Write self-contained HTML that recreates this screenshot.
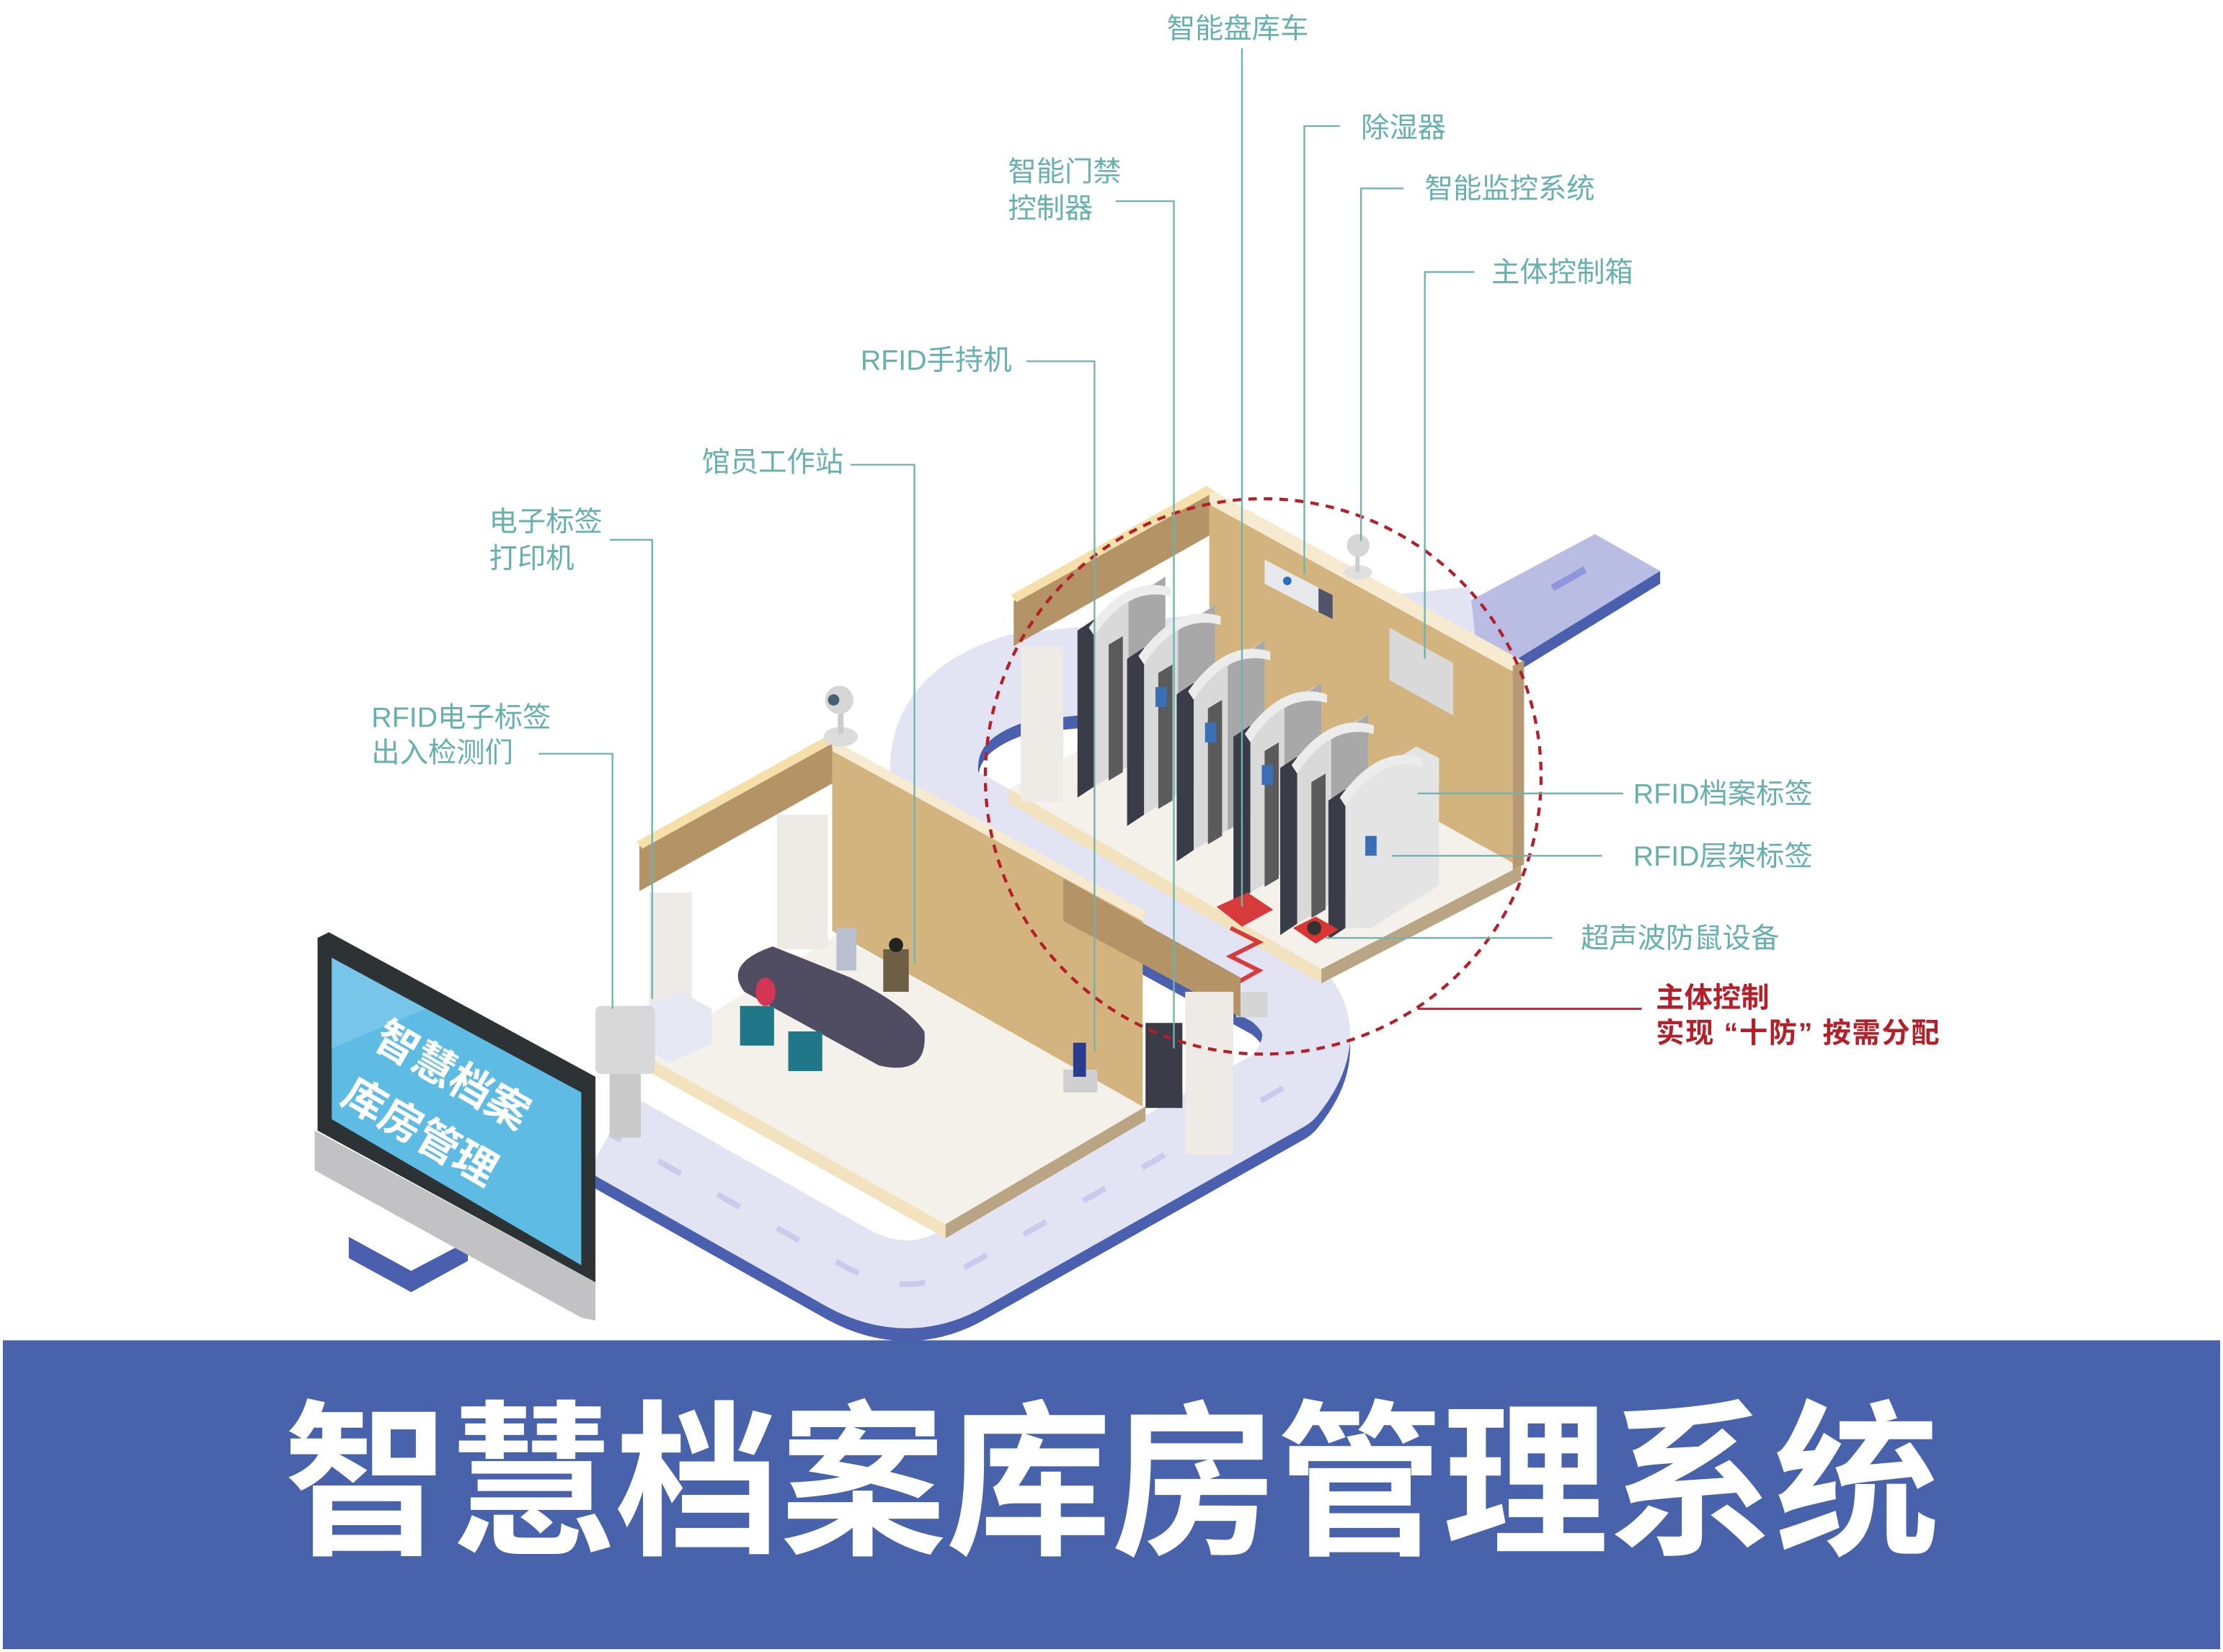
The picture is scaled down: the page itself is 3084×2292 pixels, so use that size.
<!DOCTYPE html>
<html><head><meta charset="utf-8"><style>
html,body{margin:0;padding:0;background:#fff;}
svg{display:block;}
.lb{font-family:"Liberation Sans","Noto Sans CJK SC",sans-serif;fill:#66b0ae;font-size:20px;}
.ln{stroke:#6fb3b1;stroke-width:1.2;fill:none;}
.rd{font-family:"Liberation Sans","Noto Sans CJK SC",sans-serif;fill:#b51f29;font-size:20px;font-weight:bold;}
</style></head><body>
<svg width="3084" height="2292" viewBox="0 0 1568 1166" preserveAspectRatio="none" xmlns="http://www.w3.org/2000/svg">
<rect width="1568" height="1166" fill="#fff"/>
<polygon points="1125,377 1171,403 1067,467 1020,433" fill="#b9bde3"/>
<polygon points="1171,403 1171,412 1067,476 1067,467" fill="#4a5fae"/>
<line x1="1095" y1="415" x2="1118" y2="402" stroke="#8f96db" stroke-width="5"/>
<path d="M1040,445 L720,478 Q645,500 662,565 L900,695 Q940,725 905,768 L680,895 Q640,918 598,895 L430,800" fill="none" stroke="#4a5fae" stroke-width="62" transform="translate(0,9)" stroke-linejoin="round"/>
<path d="M1040,445 L720,478 Q645,500 662,565 L900,695 Q940,725 905,768 L680,895 Q640,918 598,895 L430,800" fill="none" stroke="#e2e3f3" stroke-width="62" stroke-linejoin="round"/>
<path d="M905,768 L680,895 Q640,918 598,895 L430,800" fill="none" stroke="#c9cbea" stroke-width="4" stroke-dasharray="18 30"/>

<polygon points="712,557 853,478 1073,611 932,684" fill="#f4f1ea"/>
<polygon points="712,557 932,684 932,694 712,567" fill="#f2e2bd"/>
<polygon points="932,684 1073,611 1073,621 932,694" fill="#b9a584"/>
<polygon points="853,352 1067,470 1067,609 853,490" fill="#d3b47f"/>
<polygon points="853,345 1075,467 1067,474 853,356" fill="#f6ead0"/>
<polygon points="1067,470 1075,466 1075,610 1067,614" fill="#b59a71"/>
<polygon points="715,424 853,346 853,378 715,456" fill="#b49367"/>
<polygon points="713,420 851,343 857,347 717,425" fill="#f6dfa8"/>
<rect x="720" y="456" width="30" height="110" fill="#eeebe6"/>
<polygon points="892,395 940,420 940,437 892,412" fill="#e8e9ec"/>
<polygon points="930,415 940,420 940,437 930,432" fill="#4f5468"/>
<circle cx="908" cy="410" r="3" fill="#2c6fb6"/>
<ellipse cx="958" cy="404" rx="10" ry="5" fill="#e0e0e0"/>
<rect x="956" y="388" width="3" height="16" fill="#ccc"/>
<circle cx="958" cy="385" r="8" fill="#d6d6d6"/>
<polygon points="980,443 1025,468 1025,505 980,480" fill="#d9d9d9"/>
<g>
<g transform="translate(760,425)"><polygon points="0,20 12,12 12,130 0,138" fill="#3a3d48"/><polygon points="12,12 62,-18 62,100 12,130" fill="#d9d9d9"/><polygon points="36,0 62,-18 62,100 36,116" fill="#a8a8a8"/><path d="M8,18 Q35,-20 66,-10 L66,-4 Q35,-12 12,24Z" fill="#ececec"/><polygon points="22,30 32,24 32,120 22,126" fill="#5b5b5b"/></g>
<g transform="translate(795,445)"><polygon points="0,20 12,12 12,130 0,138" fill="#3a3d48"/><polygon points="12,12 62,-18 62,100 12,130" fill="#d9d9d9"/><polygon points="36,0 62,-18 62,100 36,116" fill="#a8a8a8"/><path d="M8,18 Q35,-20 66,-10 L66,-4 Q35,-12 12,24Z" fill="#ececec"/><polygon points="22,30 32,24 32,120 22,126" fill="#5b5b5b"/><rect x="20" y="40" width="8" height="14" fill="#3b6fb5"/></g>
<g transform="translate(830,470)"><polygon points="0,20 12,12 12,130 0,138" fill="#3a3d48"/><polygon points="12,12 62,-18 62,100 12,130" fill="#d9d9d9"/><polygon points="36,0 62,-18 62,100 36,116" fill="#a8a8a8"/><path d="M8,18 Q35,-20 66,-10 L66,-4 Q35,-12 12,24Z" fill="#ececec"/><polygon points="22,30 32,24 32,120 22,126" fill="#5b5b5b"/><rect x="20" y="40" width="8" height="14" fill="#3b6fb5"/></g>
<g transform="translate(870,500)"><polygon points="0,20 12,12 12,130 0,138" fill="#3a3d48"/><polygon points="12,12 62,-18 62,100 12,130" fill="#d9d9d9"/><polygon points="36,0 62,-18 62,100 36,116" fill="#a8a8a8"/><path d="M8,18 Q35,-20 66,-10 L66,-4 Q35,-12 12,24Z" fill="#ececec"/><polygon points="22,30 32,24 32,120 22,126" fill="#5b5b5b"/><rect x="20" y="40" width="8" height="14" fill="#3b6fb5"/></g>
<g transform="translate(903,522)"><polygon points="0,20 12,12 12,130 0,138" fill="#3a3d48"/><polygon points="12,12 62,-18 62,100 12,130" fill="#d9d9d9"/><polygon points="36,0 62,-18 62,100 36,116" fill="#a8a8a8"/><path d="M8,18 Q35,-20 66,-10 L66,-4 Q35,-12 12,24Z" fill="#ececec"/><polygon points="22,30 32,24 32,120 22,126" fill="#5b5b5b"/></g>
<g transform="translate(937,545)"><polygon points="0,20 12,12 12,110 0,118" fill="#3a3d48"/><polygon points="12,12 62,-18 78,-10 78,80 30,110 12,110" fill="#e4e4e4"/><path d="M8,18 Q35,-20 66,-10 L66,-4 Q35,-12 12,24Z" fill="#ececec"/><rect x="26" y="45" width="8" height="14" fill="#3b6fb5"/></g>
</g>
<polygon points="858,640 880,630 898,642 876,654" fill="#d63a3a"/>
<path d="M868,655 L888,665 L868,675 L888,685 L870,695" stroke="#d63a3a" stroke-width="3" fill="none"/>
<rect x="872" y="700" width="22" height="18" fill="#d5d5d5"/>
<polygon points="912,655 928,647 944,656 928,666" fill="#d93535"/>
<circle cx="927" cy="655" r="5" fill="#333"/>

<polygon points="455,745 590,660 808,781 667,864" fill="#f4f1ea"/>
<polygon points="455,745 667,864 667,874 455,755" fill="#f2e2bd"/>
<polygon points="667,864 808,781 808,791 667,874" fill="#b9a584"/>
<polygon points="587,527 806,645 806,781 587,657" fill="#d3b47f"/>
<polygon points="587,522 808,643 806,650 587,530" fill="#f6ead0"/>
<polygon points="451,597 587,522 587,553 451,629" fill="#b49367"/>
<polygon points="449,594 586,518 592,522 453,599" fill="#f6dfa8"/>
<rect x="458" y="630" width="30" height="100" fill="#eeebe6"/>
<rect x="548" y="575" width="36" height="95" fill="#eeebe6"/>
<polygon points="750,620 875,690 875,718 750,650" fill="#b49367"/>
<rect x="836" y="700" width="34" height="115" fill="#eeebe6"/>
<rect x="808" y="722" width="26" height="60" fill="#3a3d48"/>
<path d="M545,668 Q510,680 525,700 L620,752 Q655,760 652,728 Q640,710 600,690 Z" fill="#504d62"/>
<rect x="590" y="655" width="14" height="30" fill="#b9bfd0"/>
<rect x="623" y="670" width="18" height="30" fill="#6d5f45"/>
<circle cx="632" cy="667" r="5" fill="#222"/>
<rect x="522" y="710" width="24" height="28" fill="#1f7788"/>
<rect x="556" y="728" width="24" height="28" fill="#1f7788"/>
<ellipse cx="540" cy="700" rx="7" ry="10" fill="#d23555"/>
<polygon points="450,712 480,700 502,712 502,737 472,750 450,737" fill="#e6e8f3"/>
<rect x="420" y="710" width="42" height="48" rx="4" fill="#d8d8d8"/>
<rect x="430" y="758" width="22" height="45" fill="#c9c9c9"/>
<ellipse cx="593" cy="520" rx="12" ry="7" fill="#dcdcdc"/>
<rect x="591" y="500" width="4" height="18" fill="#ccc"/>
<circle cx="592" cy="494" r="10" fill="#d6d6d6"/>
<circle cx="588" cy="494" r="4" fill="#476076"/>
<rect x="750" y="755" width="24" height="16" fill="#cfcfcf"/>
<rect x="757" y="736" width="9" height="24" fill="#2a3c8e"/>

<polygon points="246,873 290,897 330,876 330,890 290,912 246,888" fill="#4a5fae"/>
<polygon points="222,798 420,905 420,932 410,930 222,826" fill="#c2c2c4"/>
<polygon points="224,662 232,658 420,760 420,905 224,798" fill="#2d3234"/>
<polygon points="234,676 410,771 410,893 234,790" fill="#5ebbe4"/>
<polygon points="234,676 300,712 234,740" fill="#8fd0ec" opacity="0.5"/>
<g transform="translate(262,738) rotate(30)" font-family="'Liberation Sans','Noto Sans CJK SC',sans-serif" font-weight="bold" fill="#fff" font-size="30">
<text x="0" y="0">智慧档案</text>
<text x="0" y="46">库房管理</text>
</g>

<circle cx="891" cy="548" r="196" fill="none" stroke="#b51f29" stroke-width="2.2" stroke-dasharray="6 5"/>

<polyline class="ln" points="876,34 876,640"/>
<polyline class="ln" points="945,89 920,89 920,405"/>
<polyline class="ln" points="787,142 828,142 828,740"/>
<polyline class="ln" points="990,133 960,133 960,382"/>
<polyline class="ln" points="1040,192 1005,192 1005,465"/>
<polyline class="ln" points="724,255 772,255 772,742"/>
<polyline class="ln" points="600,328 645,328 645,680"/>
<polyline class="ln" points="430,381 460,381 460,705"/>
<polyline class="ln" points="380,532 432,532 432,712"/>
<polyline class="ln" points="1145,560 1000,560"/>
<polyline class="ln" points="1130,604 982,604"/>
<polyline class="ln" points="1095,662 935,662"/>
<line x1="1158" y1="712" x2="1000" y2="712" stroke="#b51f29" stroke-width="1.4"/>

<text class="lb" x="823" y="27">智能盘库车</text>
<text class="lb" x="960" y="97">除湿器</text>
<text class="lb" x="711" y="128">智能门禁</text>
<text class="lb" x="711" y="154">控制器</text>
<text class="lb" x="1005" y="140">智能监控系统</text>
<text class="lb" x="1052" y="199">主体控制箱</text>
<text class="lb" x="607" y="261">RFID手持机</text>
<text class="lb" x="495" y="333">馆员工作站</text>
<text class="lb" x="345" y="375">电子标签</text>
<text class="lb" x="345" y="401">打印机</text>
<text class="lb" x="262" y="513">RFID电子标签</text>
<text class="lb" x="262" y="538">出入检测们</text>
<text class="lb" x="1152" y="567">RFID档案标签</text>
<text class="lb" x="1152" y="611">RFID层架标签</text>
<text class="lb" x="1115" y="669">超声波防鼠设备</text>
<text class="rd" x="1168" y="711">主体控制</text>
<text class="rd" x="1168" y="736" textLength="200" lengthAdjust="spacing">实现 “十防” 按需分配</text>

<rect x="2" y="946" width="1564" height="218" fill="#4862ac"/>
<text x="784" y="1088" text-anchor="middle" textLength="1168" lengthAdjust="spacingAndGlyphs" font-family="'Liberation Sans','Noto Sans CJK SC',sans-serif" font-weight="bold" font-size="118" fill="#fff">智慧档案库房管理系统</text>
</svg>
</body></html>
